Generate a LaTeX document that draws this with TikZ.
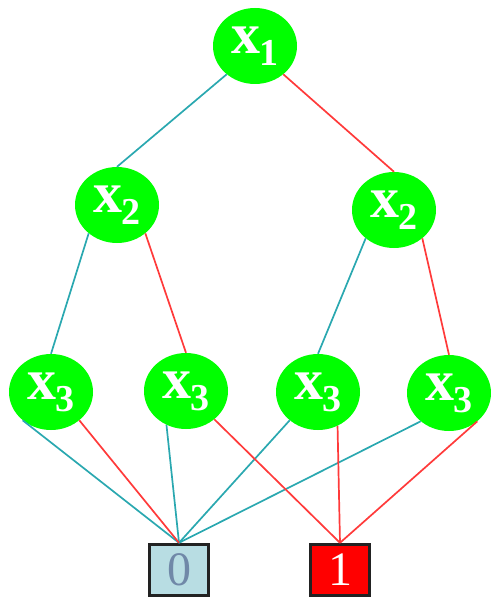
\documentclass[tikz,border=0pt]{standalone}
\usepackage{fontspec}
\setmainfont{Liberation Serif}
\usetikzlibrary{shapes.geometric}
\definecolor{varfill}{HTML}{00FF00}
\definecolor{lowedge}{HTML}{2AA8B0}
\definecolor{highedge}{HTML}{FF3A3A}
\definecolor{zerofill}{HTML}{B8DDE3}
\definecolor{zerotext}{HTML}{7088A8}
\definecolor{onefill}{HTML}{FF0000}
\definecolor{termborder}{HTML}{222222}
\newcommand{\varlabel}[1]{\bfseries\fontsize{58}{58}\selectfont x\kern-1pt\raisebox{-12pt}{\fontsize{38}{38}\selectfont #1}}
\tikzset{
  varnode/.style={ellipse, fill=varfill, minimum width=84pt, minimum height=76pt,
    inner sep=0pt, text=white},
  termnode/.style={rectangle, draw=termborder, line width=3.4pt,
    minimum width=59pt, minimum height=51pt, inner sep=0pt,
    font=\fontsize{48}{48}\selectfont},
  lowline/.style={draw=lowedge, line width=1.7pt},
  highline/.style={draw=highedge, line width=1.7pt}
}
\begin{document}
\begin{tikzpicture}[x=1pt, y=-1pt]
\useasboundingbox (0,0) rectangle (490,599);
% variable nodes
\node[varnode] (x1)  at (255,46)  {\varlabel{1}};
\node[varnode] (x2l) at (117,205) {\varlabel{2}};
\node[varnode] (x2r) at (394,210) {\varlabel{2}};
\node[varnode] (x3a) at (51,392)  {\varlabel{3}};
\node[varnode] (x3b) at (186,391) {\varlabel{3}};
\node[varnode] (x3c) at (318,392) {\varlabel{3}};
\node[varnode] (x3d) at (449,393) {\varlabel{3}};
% terminal nodes
\node[termnode, fill=zerofill, text=zerotext] (t0) at (179,570) {0};
\node[termnode, fill=onefill, text=white] (t1) at (340,570) {1};
% low (0) branches
\draw[lowline] (x1.225) -- (x2l.north);
\draw[lowline] (x2l.225) -- (x3a.north);
\draw[lowline] (x2r.225) -- (x3c.north);
\draw[lowline] (x3a.225) -- (t0.north);
\draw[lowline] (x3b.240) -- (t0.north);
\draw[lowline] (x3c.225) -- (t0.north);
\draw[lowline] (x3d.225) -- (t0.north);
% high (1) branches
\draw[highline] (x1.315) -- (x2r.north);
\draw[highline] (x2l.315) -- (x3b.north);
\draw[highline] (x2r.315) -- (x3d.north);
\draw[highline] (x3a.315) -- (t0.north);
\draw[highline] (x3b.315) -- (t1.north);
\draw[highline] (x3c.300) -- (t1.north);
\draw[highline] (x3d.315) -- (t1.north);
\end{tikzpicture}
\end{document}
